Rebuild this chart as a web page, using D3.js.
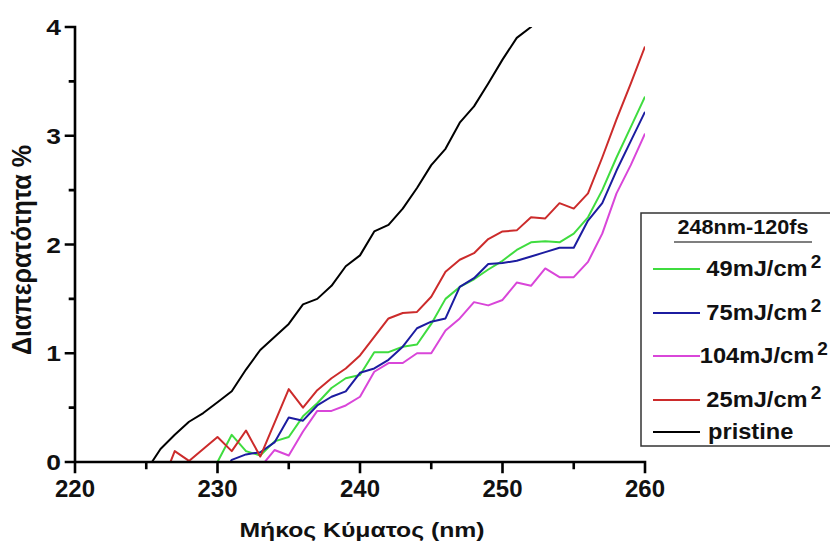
<!DOCTYPE html>
<html>
<head>
<meta charset="utf-8">
<script src="https://cdn.jsdelivr.net/npm/d3@7"></script>
<style>
  body { margin: 0; background: #fff; }
  text { font-family: "Liberation Sans", Arial, sans-serif; font-weight: bold; }
</style>
</head>
<body>
<div id="chart"></div>
<script>
// wavelength grid (nm), values are transmittance %; null = not drawn
const wavelength = d3.range(225, 261);

const pristine = [-0.08, 0.12, 0.25, 0.37, 0.45, 0.55, 0.65, 0.85, 1.03, 1.15, 1.27, 1.45,
  1.5, 1.62, 1.8, 1.9, 2.12, 2.18, 2.33, 2.52, 2.73, 2.88, 3.12, 3.27, 3.48, 3.7, 3.9, 4.0,
  4.15, null, null, null, null, null, null, null];
const fluence25 = [null, -0.23, 0.1, 0.01, 0.12, 0.23, 0.1, 0.29, 0.05, 0.36, 0.67, 0.5,
  0.66, 0.77, 0.86, 0.98, 1.15, 1.32, 1.37, 1.38, 1.52, 1.75, 1.86, 1.92, 2.05, 2.12, 2.13,
  2.25, 2.24, 2.38, 2.33, 2.47, 2.8, 3.15, 3.48, 3.82];
const fluence49 = [null, null, null, null, null, 0.0, 0.25, 0.1, 0.06, 0.19, 0.23, 0.42,
  0.54, 0.68, 0.77, 0.8, 1.01, 1.01, 1.06, 1.08, 1.27, 1.5, 1.61, 1.68, 1.77, 1.85, 1.95,
  2.02, 2.03, 2.02, 2.1, 2.25, 2.5, 2.8, 3.08, 3.36];
const fluence75 = [null, null, null, null, null, -0.2, 0.02, 0.07, 0.09, 0.18, 0.41, 0.38,
  0.52, 0.6, 0.65, 0.82, 0.86, 0.94, 1.06, 1.23, 1.29, 1.32, 1.61, 1.69, 1.82, 1.83, 1.85,
  1.89, 1.93, 1.97, 1.97, 2.22, 2.38, 2.68, 2.95, 3.22];
const fluence104 = [null, null, null, null, null, null, null, null, -0.05, 0.11, 0.06, 0.28,
  0.47, 0.47, 0.52, 0.6, 0.83, 0.91, 0.91, 1.0, 1.0, 1.21, 1.32, 1.47, 1.44, 1.49, 1.65,
  1.62, 1.78, 1.7, 1.7, 1.84, 2.1, 2.47, 2.73, 3.02];

const xTicks = [220, 230, 240, 250, 260];
const xMinorTicks = [225, 235, 245, 255];
const yTicks = [0, 1, 2, 3, 4];
const yMinorTicks = [0.5, 1.5, 2.5, 3.5];
const legendTitle = "248nm-120fs";

const series = [
  { name: "49mJ/cm", sup: "2", values: fluence49, color: "#3fdc3f" },
  { name: "75mJ/cm", sup: "2", values: fluence75, color: "#1c1ca0" },
  { name: "104mJ/cm", sup: "2", values: fluence104, color: "#d946d9" },
  { name: "25mJ/cm", sup: "2", values: fluence25, color: "#cc2b2b" },
  { name: "pristine", sup: "", values: pristine, color: "#000000" }
];

const W = 830, H = 545;
const svg = d3.select("#chart").append("svg").attr("width", W).attr("height", H);

const x = d3.scaleLinear().domain([220, 260]).range([75, 645]);
const y = d3.scaleLinear().domain([0, 4]).range([462, 27]);

svg.append("clipPath").attr("id", "plot-clip")
  .append("rect")
  .attr("x", x(220)).attr("y", y(4))
  .attr("width", x(260) - x(220)).attr("height", y(0) - y(4));

// lines
const line = d3.line()
  .defined((d) => d[1] !== null)
  .x((d) => x(d[0]))
  .y((d) => y(d[1]));

const drawOrder = [4, 0, 1, 2, 3];
svg.append("g").attr("clip-path", "url(#plot-clip)")
  .selectAll("path")
  .data(drawOrder.map((i) => series[i]))
  .join("path")
  .attr("fill", "none")
  .attr("stroke", (d) => d.color)
  .attr("stroke-width", 2)
  .attr("stroke-linejoin", "round")
  .attr("d", (d) => line(wavelength.map((w, i) => [w, d.values[i]])));

// axes: spines and ticks as one path built from the scales
const p = d3.path();
p.moveTo(x(220), y(4));
p.lineTo(x(220), y(0));
p.lineTo(x(260), y(0));
xTicks.forEach((t) => { p.moveTo(x(t), y(0)); p.lineTo(x(t), y(0) + 10); });
xMinorTicks.forEach((t) => { p.moveTo(x(t), y(0)); p.lineTo(x(t), y(0) + 6); });
yTicks.forEach((t) => { p.moveTo(x(220), y(t)); p.lineTo(x(220) - 9, y(t)); });
yMinorTicks.forEach((t) => { p.moveTo(x(220), y(t)); p.lineTo(x(220) - 5, y(t)); });

svg.append("path")
  .attr("d", p.toString())
  .attr("fill", "none")
  .attr("stroke", "#000")
  .attr("stroke-width", 2.6)
  .attr("stroke-linecap", "square");

svg.selectAll(".xlabel").data(xTicks).join("text").attr("class", "xlabel")
  .attr("x", (d) => x(d)).attr("y", y(0) + 35)
  .attr("text-anchor", "middle")
  .attr("font-size", 24).attr("fill", "#111")
  .text(d3.format("d"));

svg.selectAll(".ylabel").data(yTicks).join("text").attr("class", "ylabel")
  .attr("transform", (d) => `translate(${x(220) - 14},${y(d) + 8}) scale(1.2,1)`)
  .attr("text-anchor", "end")
  .attr("font-size", 22).attr("fill", "#111")
  .text(d3.format("d"));

// axis titles
svg.append("text")
  .attr("x", 362).attr("y", 537)
  .attr("text-anchor", "middle")
  .attr("font-size", 21).attr("fill", "#111")
  .attr("textLength", 245).attr("lengthAdjust", "spacingAndGlyphs")
  .text("Μήκος Κύματος (nm)");

svg.append("text")
  .attr("transform", "translate(31,250) scale(1.15,1) rotate(-90)")
  .attr("text-anchor", "middle")
  .attr("font-size", 24).attr("fill", "#111")
  .attr("textLength", 210).attr("lengthAdjust", "spacingAndGlyphs")
  .text("Διαπερατότητα %");

// legend
const legend = svg.append("g");
legend.append("rect")
  .attr("x", 641).attr("y", 213).attr("width", 220).attr("height", 233)
  .attr("fill", "#fff").attr("stroke", "#333").attr("stroke-width", 1.5);

const title = legend.append("text")
  .attr("x", 743).attr("y", 234)
  .attr("text-anchor", "middle")
  .attr("font-size", 20).attr("fill", "#111")
  .text(legendTitle);
title.attr("textLength", title.node().getComputedTextLength() * 1.08)
  .attr("lengthAdjust", "spacingAndGlyphs");
legend.append("line")
  .attr("x1", 674).attr("x2", 812).attr("y1", 242).attr("y2", 242)
  .attr("stroke", "#555").attr("stroke-width", 1.5);

const rowY = [269, 313, 356, 400, 432];
const stretch = 1.1;
series.forEach((s, i) => {
  const yy = rowY[i];
  legend.append("line")
    .attr("x1", 653).attr("x2", 700).attr("y1", yy).attr("y2", yy)
    .attr("stroke", s.color).attr("stroke-width", 2);
  const t = legend.append("text")
    .attr("y", yy + 7)
    .attr("font-size", 21.5).attr("fill", "#111")
    .text(s.name);
  const w = t.node().getComputedTextLength() * stretch;
  const x0 = s.sup ? 757 - w / 2 : 708;
  t.attr("x", x0).attr("textLength", w).attr("lengthAdjust", "spacingAndGlyphs");
  if (s.sup) {
    legend.append("text")
      .attr("x", x0 + w + 3).attr("y", yy - 1)
      .attr("font-size", 19).attr("fill", "#111")
      .text(s.sup);
  }
});
</script>
</body>
</html>
